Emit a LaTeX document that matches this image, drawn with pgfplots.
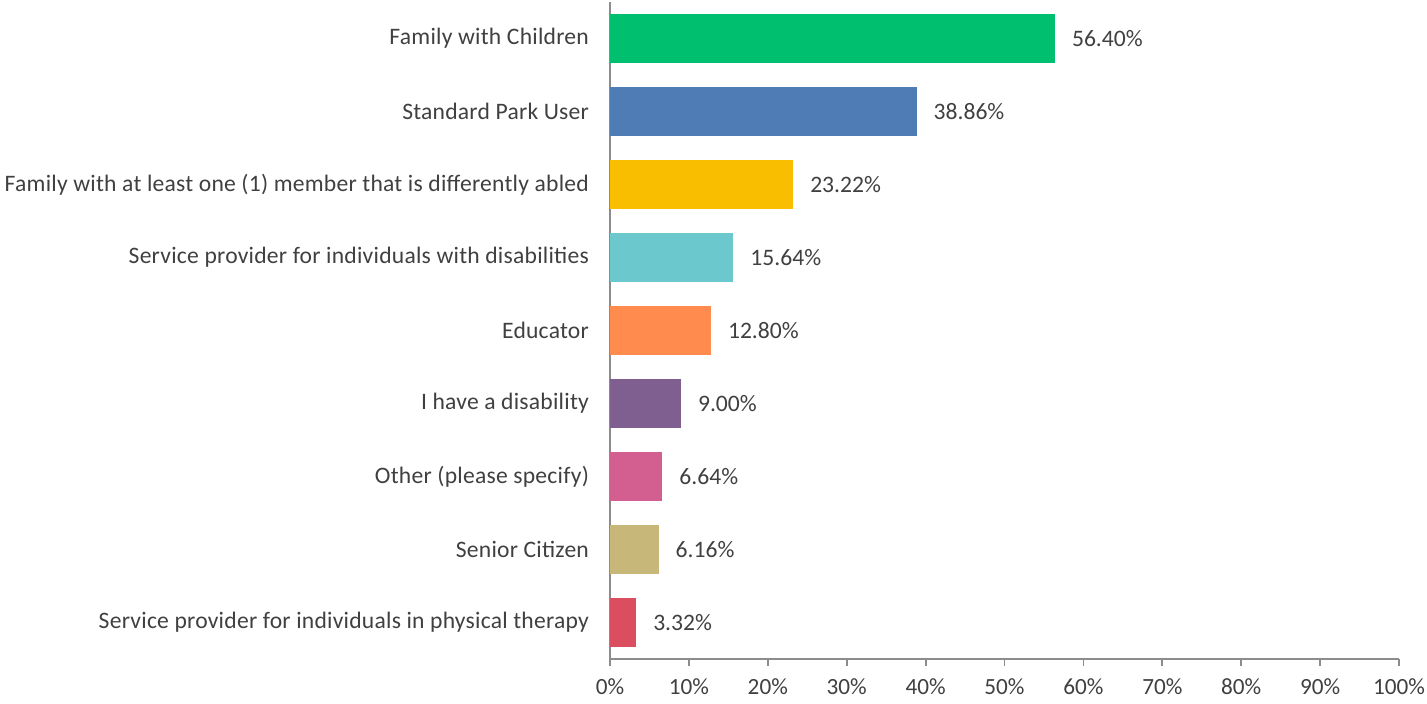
\documentclass[border=0pt]{standalone}
\usepackage{pgfplots}
\pgfplotsset{compat=1.18}
\usepackage{fontspec}
\setmainfont{Carlito}
\definecolor{txt}{HTML}{404040}
\definecolor{axc}{HTML}{8C8C8C}
\definecolor{c1}{HTML}{00BF6F}
\definecolor{c2}{HTML}{507CB6}
\definecolor{c3}{HTML}{F9BE00}
\definecolor{c4}{HTML}{6BC8CD}
\definecolor{c5}{HTML}{FF8B4F}
\definecolor{c6}{HTML}{7F5F90}
\definecolor{c7}{HTML}{D25F90}
\definecolor{c8}{HTML}{C7B879}
\definecolor{c9}{HTML}{DA4E5F}
\begin{document}
\begin{tikzpicture}
\begin{axis}[
  at={(0,0)}, anchor=south west,
  scale only axis,
  width=394.5pt, height=328.5pt,
  xbar, bar shift=0pt, bar width=24.5pt,
  xmin=0, xmax=100,
  ymin=-0.5, ymax=8.5,
  y dir=reverse,
  axis x line=bottom, axis y line=left,
  axis line style={-, axc, line width=0.9pt},
  every tick/.style={axc, line width=0.9pt},
  xtick={0,10,...,100},
  xticklabel={\pgfmathprintnumber{\tick}\%},
  tick align=outside,
  major tick length=3.5pt,
  ytick={0,...,8},
  yticklabels={Family with Children,Standard Park User,Family with at least one (1) member that is differently abled,Service provider for individuals with disabilities,Educator,I have a disability,Other (please specify),Senior Citizen,Service provider for individuals in physical therapy},
  ytick style={draw=none},
  extra y ticks={-0.5,0.5,...,8.5},
  extra y tick labels={},
  extra y tick style={tick style={axc, line width=0.9pt}, major tick length=3.5pt},
  yticklabel style={xshift=-3.5pt, font=\fontsize{11.8}{13}\selectfont\addfontfeatures{LetterSpace=1}},
  xticklabel style={yshift=-3pt, font=\fontsize{11.6}{13}\selectfont},
  tick label style={text=txt},
  /pgf/number format/assume math mode=true,
  point meta=x,
  nodes near coords={\pgfmathprintnumber[fixed,fixed zerofill,precision=2]{\pgfplotspointmeta}\%},
  nodes near coords style={font=\fontsize{11.8}{13}\selectfont, text=txt, anchor=west, xshift=5pt},
  clip=false,
]
\addplot[fill=c1, draw=none] coordinates {(56.40,0)};
\addplot[fill=c2, draw=none] coordinates {(38.86,1)};
\addplot[fill=c3, draw=none] coordinates {(23.22,2)};
\addplot[fill=c4, draw=none] coordinates {(15.64,3)};
\addplot[fill=c5, draw=none] coordinates {(12.80,4)};
\addplot[fill=c6, draw=none] coordinates {(9.00,5)};
\addplot[fill=c7, draw=none] coordinates {(6.64,6)};
\addplot[fill=c8, draw=none] coordinates {(6.16,7)};
\addplot[fill=c9, draw=none] coordinates {(3.32,8)};
\end{axis}
\pgfresetboundingbox
\path[use as bounding box] (-305pt,-22pt) rectangle (408.5pt,329.5pt);
\end{tikzpicture}
\end{document}
